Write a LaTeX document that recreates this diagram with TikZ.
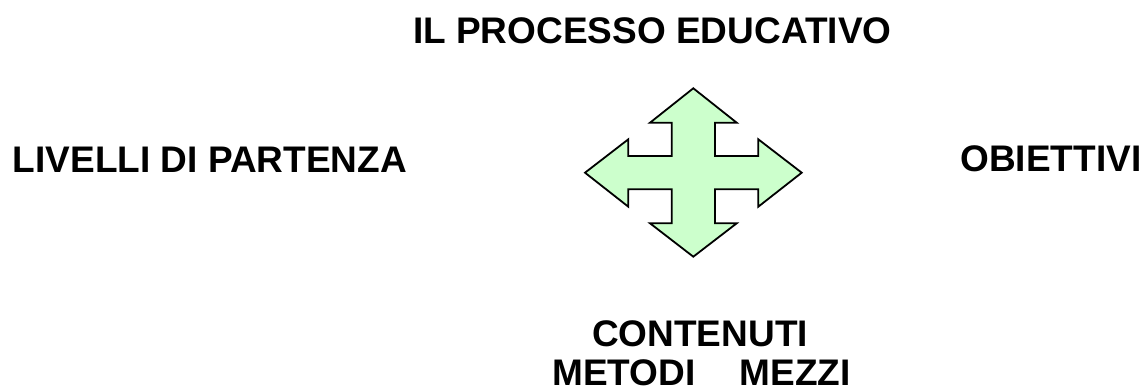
\documentclass[tikz,border=0pt]{standalone}
\usepackage{fontspec}
\setmainfont{Liberation Sans}
\definecolor{arrowgreen}{HTML}{CCFFCC}
\begin{document}
\begin{tikzpicture}[x=1pt,y=-1pt,
  label/.style={inner sep=0pt, outer sep=0pt, font=\fontsize{37}{44}\selectfont\bfseries, text=black},
  crossarrow/.style={draw=black, line width=1.8pt, fill=arrowgreen, line join=miter}]
  \useasboundingbox[fill=white] (0,0) rectangle (1147,387);
  % four-way arrow
  \draw[crossarrow]
    (693.3,88.3) -- (736.7,122.7) -- (715,122.7) -- (715,156) -- (758.3,156) -- (758.3,139.3)
    -- (801.7,172.7) -- (758.3,206.7) -- (758.3,189.3) -- (715,189.3) -- (715,223.3) -- (736.7,223.3)
    -- (693.3,256.7) -- (650,223.3) -- (671.7,223.3) -- (671.7,189.3) -- (628.3,189.3) -- (628.3,206.7)
    -- (585,172.7) -- (628.3,139.3) -- (628.3,156) -- (671.7,156) -- (671.7,122.7) -- (650,122.7) -- cycle;
  % texts
  \node[label, anchor=base] (title) at (652.3,43.3) {IL PROCESSO EDUCATIVO};
  \node[label, anchor=base] (left) at (209.8,172.3) {LIVELLI DI PARTENZA};
  \node[label, anchor=base] (right) at (1050.8,171.7) {OBIETTIVI};
  \node[label, anchor=base] (cont) at (700,346.7) {CONTENUTI};
  \node[label, anchor=base west] (mm) at (552.3,385.3) {METODI\hspace{44pt}MEZZI};
\end{tikzpicture}
\end{document}
